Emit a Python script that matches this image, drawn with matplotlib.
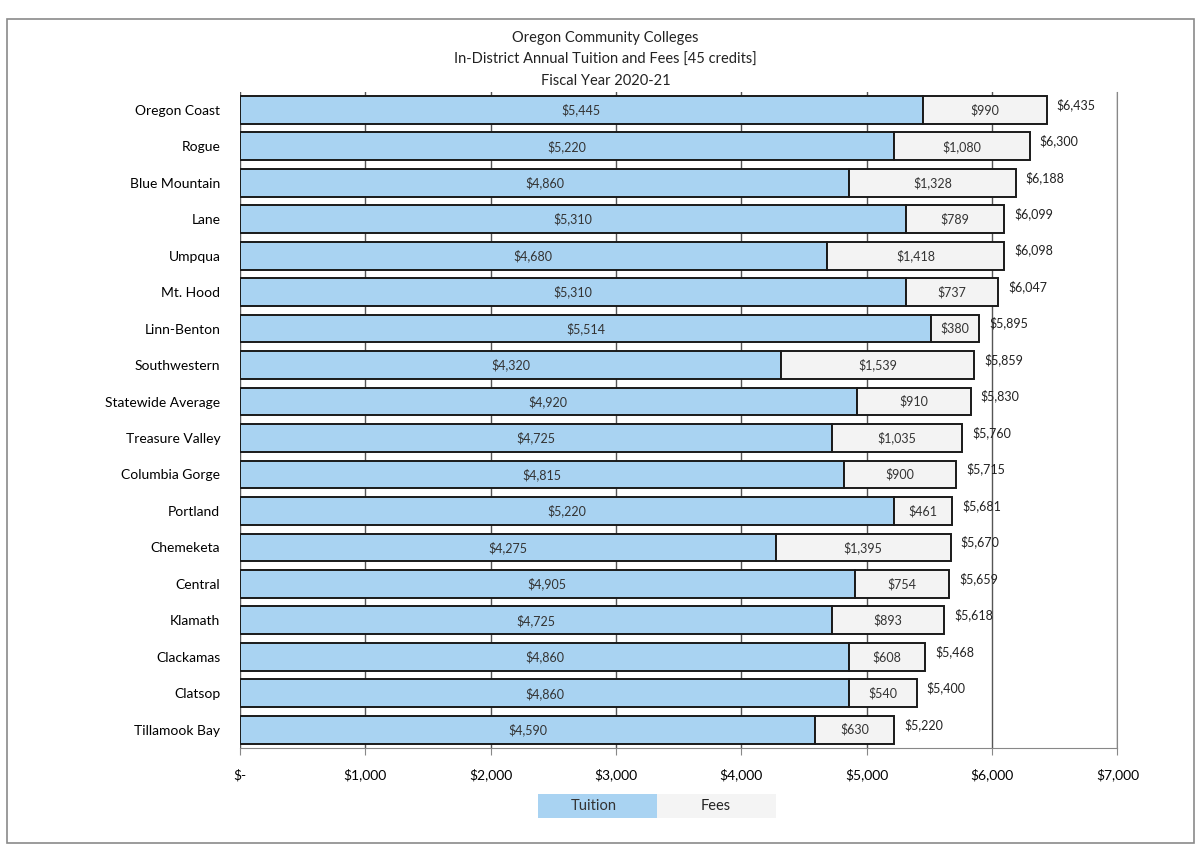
import matplotlib
matplotlib.use("Agg")
import matplotlib.pyplot as plt
from matplotlib.patches import Rectangle
import numpy as np

colleges = ["Oregon Coast", "Rogue", "Blue Mountain", "Lane", "Umpqua", "Mt. Hood",
            "Linn-Benton", "Southwestern", "Statewide Average", "Treasure Valley",
            "Columbia Gorge", "Portland", "Chemeketa", "Central", "Klamath",
            "Clackamas", "Clatsop", "Tillamook Bay"]
tuition = [5445, 5220, 4860, 5310, 4680, 5310, 5514, 4320, 4920, 4725,
           4815, 5220, 4275, 4905, 4725, 4860, 4860, 4590]
fees = [990, 1080, 1328, 789, 1418, 737, 380, 1539, 910, 1035,
        900, 461, 1395, 754, 893, 608, 540, 630]
totals = [6435, 6300, 6188, 6099, 6098, 6047, 5895, 5859, 5830, 5760,
          5715, 5681, 5670, 5659, 5618, 5468, 5400, 5220]
xticks = [0, 1000, 2000, 3000, 4000, 5000, 6000, 7000]
xticklabels = ["$-", "$1,000", "$2,000", "$3,000", "$4,000", "$5,000", "$6,000", "$7,000"]
title_lines = ["Oregon Community Colleges",
               "In-District Annual Tuition and Fees [45 credits]",
               "Fiscal Year 2020-21"]

plt.rcParams['font.family'] = ['Lato', 'DejaVu Sans']

fig = plt.figure(figsize=(11.99, 8.48), dpi=100)
fig.patches.append(Rectangle((0.006, 0.006), 0.990, 0.972, transform=fig.transFigure,
                             fill=False, edgecolor="#8a8a8a", linewidth=1.2))
ax = fig.add_axes([0.200, 0.118, 0.732, 0.774])

y = np.arange(len(colleges))
h = 0.76
blue = "#a9d3f2"
grey = "#f3f3f3"
ax.barh(y, tuition, height=h, color=blue, edgecolor="#1a1a1a", linewidth=1.4, zorder=3)
ax.barh(y, fees, left=tuition, height=h, color=grey, edgecolor="#1a1a1a", linewidth=1.4, zorder=3)

for yi, t, f, tot in zip(y, tuition, fees, totals):
    ax.text(t / 2, yi, f"${t:,}", ha="center", va="center", fontsize=9, color="#333333", zorder=4)
    ax.text(t + f / 2, yi, f"${f:,}", ha="center", va="center", fontsize=9, color="#333333", zorder=4)
    ax.text(tot + 80, yi - 0.15, f"${tot:,}", ha="left", va="center", fontsize=9, color="#222222", zorder=4)

ax.set_xlim(0, 7000)
ax.set_ylim(len(colleges) - 0.5, -0.5)
ax.set_xticks(xticks)
ax.set_xticklabels(xticklabels, fontsize=10)
ax.set_yticks(y)
ax.set_yticklabels(colleges, fontsize=10)
ax.tick_params(axis="y", length=0, pad=14)
ax.tick_params(axis="x", length=5, color="#888888", pad=10)
ax.grid(axis="x", color="#555555", linewidth=1.0, zorder=0)
for s in ["top", "left"]:
    ax.spines[s].set_visible(False)
ax.spines["bottom"].set_color("#888888")
ax.spines["right"].set_color("#888888")

for i, line in enumerate(title_lines):
    fig.text(0.505, 0.955 - i * 0.025, line, ha="center", va="center", fontsize=10.5, color="#222222")

fig.text(0.495, 0.049, "Tuition", ha="center", va="center", fontsize=10.5, color="#333333",
         bbox=dict(boxstyle="square,pad=0.4", facecolor=blue, edgecolor="none"))
fig.patches.append(Rectangle((0.449, 0.035), 0.099, 0.029, transform=fig.transFigure,
                             facecolor=blue, edgecolor="none", zorder=0))
fig.patches.append(Rectangle((0.548, 0.035), 0.099, 0.029, transform=fig.transFigure,
                             facecolor="#f4f4f4", edgecolor="none", zorder=0))
fig.texts[-1].set_bbox(None)
fig.text(0.597, 0.050, "Fees", ha="center", va="center", fontsize=10.5, color="#222222")

fig.savefig("out.png", dpi=100)
